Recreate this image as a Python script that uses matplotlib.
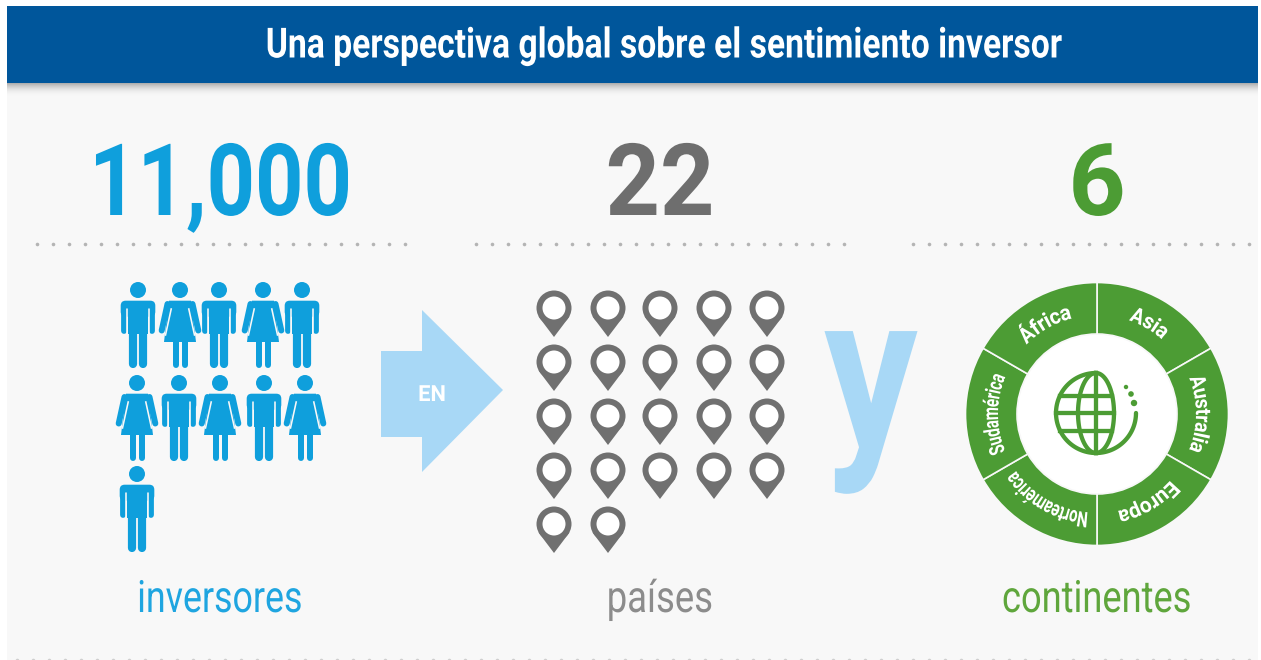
# -*- coding: utf-8 -*-
import numpy as np
import matplotlib
matplotlib.use('Agg')
import matplotlib.pyplot as plt
from matplotlib.patches import Circle, Polygon, Rectangle, FancyBboxPatch
from matplotlib.patheffects import AbstractPathEffect
from matplotlib.path import Path
from matplotlib.textpath import TextPath
from matplotlib.font_manager import FontProperties

plt.rcParams['font.family'] = ['Roboto', 'DejaVu Sans']

title = 'Una perspectiva global sobre el sentimiento inversor'
big_numbers = ['11,000', '22', '6']
labels = ['inversores', 'países', 'continentes']
people_rows = ['MFMFM', 'FMFMF', 'M']  # M = hombre, F = mujer
pin_rows = [5, 5, 5, 5, 2]
continents = ['Asia', 'Australia', 'Europa', 'Norteamérica', 'Sudamérica', 'África']
continent_share = [1, 1, 1, 1, 1, 1]

BLUE = '#0f9fdc'
LIGHT = '#a8d8f6'
GRAY = '#707070'
GREEN = '#4c9c34'
BG = '#f8f8f8'
W, H = 1261, 660

fig = plt.figure(figsize=(W / 100, H / 100), dpi=100, facecolor='white')
ax = fig.add_axes([0, 0, 1, 1])
ax.set_xlim(0, W)
ax.set_ylim(H, 0)
ax.axis('off')
px = 0.72  # 1 pixel en puntos


class Squeeze(AbstractPathEffect):
    # estrecha el texto (no hay fuente condensada) y opcionalmente lo curva
    def __init__(self, sx, bend=None):
        super().__init__()
        self.sx = sx
        self.bend = bend

    def draw_path(self, renderer, gc, tpath, affine, rgbFace=None):
        ext = tpath.get_extents()
        uc = (ext.x0 + ext.x1) / 2
        vc = (ext.y0 + ext.y1) / 2
        v = tpath.vertices.copy()
        v[:, 0] = uc + (v[:, 0] - uc) * self.sx
        if self.bend:
            m = affine.get_matrix()
            s = np.sqrt(abs(m[0, 0] * m[1, 1] - m[0, 1] * m[1, 0]))
            rho = self.bend / s
            phi = (v[:, 0] - uc) / rho
            rad = rho + v[:, 1] - vc
            v = np.column_stack([uc + rad * np.sin(phi), vc - rho + rad * np.cos(phi)])
        renderer.draw_path(gc, Path(v, tpath.codes), affine, rgbFace)


def fit(a, x, y, s, width, size, bold=False, bend=None, **kw):
    # texto real con anchura final de width pixeles
    fp = FontProperties(family='Roboto', weight='bold' if bold else 'normal')
    w = TextPath((0, 0), s, size=size / px, prop=fp).get_extents().width
    return a.text(x, y, s, fontsize=size, fontweight='bold' if bold else 'normal',
                  path_effects=[Squeeze(width / w, bend)], **kw)


# fondo, banda y sombra
ax.add_patch(Rectangle((7, 83), 1251, 577, fc=BG, ec='none', zorder=0))
shade = np.linspace(0.55, 0, 14).reshape(-1, 1)
ax.imshow(shade, extent=(7, 1258, 97, 83), cmap='gray_r', vmin=0, vmax=1, alpha=shade,
          aspect='auto', zorder=1, interpolation='bilinear')
ax.set_xlim(0, W)
ax.set_ylim(H, 0)
ax.add_patch(Rectangle((7, 6), 1251, 77, fc='#00569b', ec='none', zorder=2))
fit(ax, 663, 46, title, 794, 30, bold=True, color='white', ha='center', va='center', zorder=3)

# numeros y etiquetas
num_widths = [252, 102, 49]
label_widths = [161, 102, 186]
for x, t, l, nw, lw_, c, lc in zip([220, 660, 1097], big_numbers, labels, num_widths, label_widths,
                                   [BLUE, '#6e6e6e', GREEN], ['#1fa5e0', '#8c8c8c', '#5fa63c']):
    fit(ax, x, 215, t, nw, 72, bold=True, color=c, ha='center', va='baseline')
    fit(ax, x, 612, l, lw_, 32, color=lc, ha='center', va='baseline')

# lineas de puntos
for x0, n, y, c in [(37.3, 24, 244.3, '#b4b4b4'), (476, 24, 244.3, '#b4b4b4'), (913, 22, 244.3, '#b4b4b4'),
                    (17, 78, 659.5, '#cfcfcf')]:
    ax.plot(x0 + 16 * np.arange(n), np.full(n, y), 'o', color=c, ms=3.6 * px, mew=0, zorder=1)


def limb(x0, y0, x1, y1, w, col=BLUE, z=5):
    ax.plot([x0, x1], [y0, y1], color=col, lw=w * px, solid_capstyle='round', zorder=z)


def man(cx, cy):
    ax.add_patch(Circle((cx, cy), 8, fc=BLUE, ec='none', zorder=5))
    ax.add_patch(FancyBboxPatch((cx - 12.3, cy + 15.7), 24.6, 6, boxstyle='round,pad=5',
                                fc=BLUE, ec='none', zorder=5))
    ax.add_patch(Rectangle((cx - 10, cy + 12), 20, 32, fc=BLUE, ec='none', zorder=5))
    for s in (-1, 1):
        limb(cx + s * 14.4, cy + 16, cx + s * 14.4, cy + 40.5, 5.8)
        limb(cx + s * 5.4, cy + 40, cx + s * 5.4, cy + 74, 8.2)
        limb(cx + s * 10.9, cy + 19, cx + s * 10.9, cy + 44, 1.6, BG, 6)


def woman(cx, cy):
    ax.add_patch(Circle((cx, cy), 8, fc=BLUE, ec='none', zorder=5))
    ax.add_patch(Polygon([(cx - 11, cy + 10.7), (cx + 11, cy + 10.7), (cx + 16, cy + 52), (cx - 16, cy + 52)],
                         closed=True, fc=BLUE, ec='none', zorder=5))
    for s in (-1, 1):
        limb(cx + s * 12.5, cy + 14, cx + s * 18.3, cy + 40.5, 6)
        limb(cx + s * 4.5, cy + 50, cx + s * 4.5, cy + 75, 6)
        ax.plot([cx + s * 8.8, cx + s * 14.5], [cy + 19, cy + 45], color=BG, lw=1.6 * px, zorder=6)


# personas
row_x = [[138, 180, 219, 263, 302], [137, 179, 220, 264, 305], [137]]
row_y = [290, 383, 474]
for row, xs, y in zip(people_rows, row_x, row_y):
    for kind, x in zip(row, xs):
        if kind == 'M':
            man(x, y)
        else:
            woman(x, y)

# flecha
ax.add_patch(Polygon([(381, 351), (422, 351), (422, 310), (503, 390), (422, 472), (422, 437), (381, 437)],
                     closed=True, fc=LIGHT, ec='none', zorder=3))
fit(ax, 432, 395, 'EN', 25, 16, bold=True, color='white', ha='center', va='center', zorder=4)

# marcadores
pin_x = [554, 608, 660, 714, 767]
for r, n in enumerate(pin_rows):
    for i in range(n):
        x = pin_x[i]
        y = 308 + 54 * r
        ax.add_patch(Circle((x, y), 17.5, fc=GRAY, ec='none', zorder=3))
        ax.add_patch(Polygon([(x - 15.5, y + 8.5), (x + 15.5, y + 8.5), (x, y + 29)], closed=True,
                             fc=GRAY, ec='none', zorder=3))
        ax.add_patch(Circle((x, y), 11.5, fc='white', ec='none', zorder=4))

# la y
fit(ax, 871, 447, 'y', 93, 158, bold=True, color=LIGHT, ha='center', va='baseline', zorder=3)

# anillo de continentes
cx, cy, R, r = 1097, 414, 131.5, 80
pie_ax = fig.add_axes([(cx - R) / W, 1 - (cy + R) / H, 2 * R / W, 2 * R / H])
pie_ax.pie(continent_share, startangle=90, counterclock=False, radius=1, colors=[GREEN],
           wedgeprops=dict(width=1 - r / R, edgecolor='#f8f8f8', linewidth=1.2))
pie_ax.set_xlim(-1, 1)
pie_ax.set_ylim(-1, 1)
pie_ax.patch.set_alpha(0)
ax.add_patch(Circle((cx, cy), r - 0.5, fc='white', ec='none', zorder=2))
cum = np.cumsum(continent_share)
ang = (cum - 0.5) / cum[-1] * 360  # desde arriba, sentido horario
cont_widths = [41, 79, 64, 92, 82, 58]
for name, a, w in zip(continents, ang, cont_widths):
    tx = 105 * np.sin(np.radians(a)) / R
    ty = 105 * np.cos(np.radians(a)) / R
    fit(pie_ax, tx, ty, name, w, 15.5, bold=True, bend=105, color='white',
        rotation=-a, rotation_mode='anchor', ha='center', va='center')

# globo
gx, gy, gR = 1096, 413, 40
lw = 4.3 * px
t = np.radians(np.linspace(90, 360, 100))
ax.plot(gx + gR * np.cos(t), gy - gR * np.sin(t), color=GREEN, lw=lw, zorder=5, solid_capstyle='round')
t = np.radians(np.linspace(90, 270, 60))
ax.plot(gx + 18 * np.cos(t), gy - gR * np.sin(t), color=GREEN, lw=lw, zorder=5)
ax.plot(gx - 18 * np.cos(t), gy - gR * np.sin(t), color=GREEN, lw=lw, zorder=5)
ax.plot([gx, gx], [gy - gR, gy + gR], color=GREEN, lw=lw, zorder=5)
for dy in (-17.5, 0, 17.5):
    k = np.sqrt(1 - dy ** 2 / gR ** 2)
    ax.plot([gx - gR * k, gx + 18 * k], [gy + dy, gy + dy], color=GREEN, lw=lw, zorder=5)
for x, y, s in [(1126, 387, 2.2), (1131, 394, 2.8), (1134, 403, 3.2)]:
    ax.add_patch(Circle((x, y), s, fc=GREEN, ec='none', zorder=5))

fig.savefig('out.png', dpi=100, facecolor='white')
